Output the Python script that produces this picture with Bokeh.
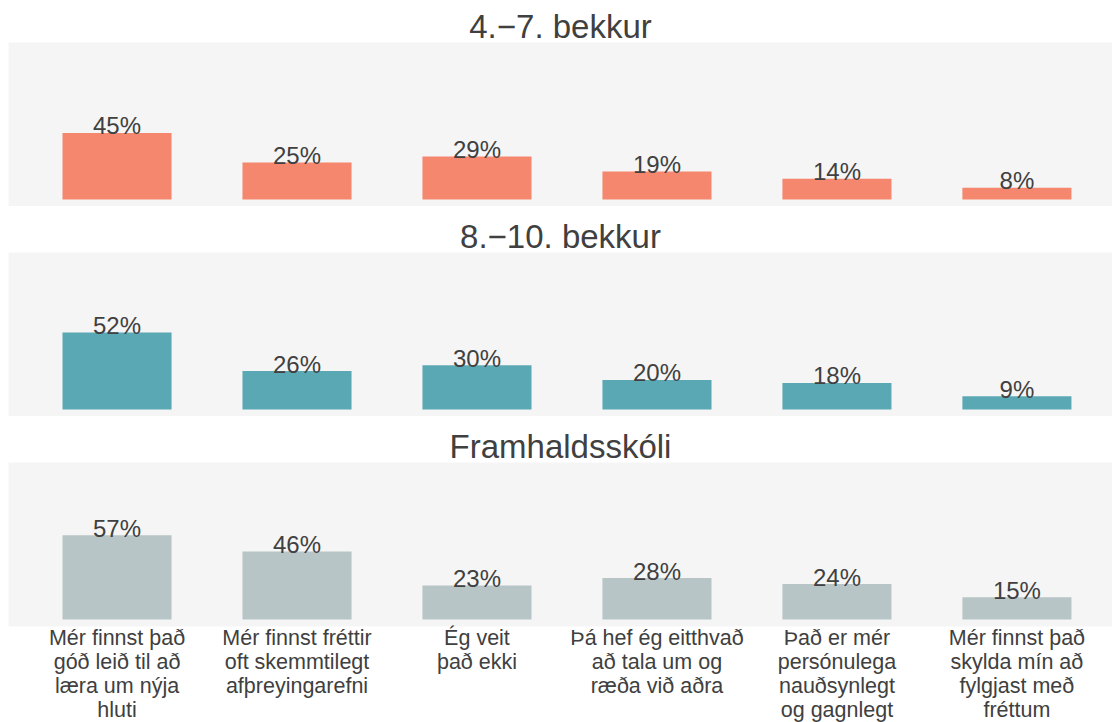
from bokeh.plotting import figure
from bokeh.layouts import column
from bokeh.models import Range1d, FixedTicker, ColumnDataSource
from bokeh.core.properties import value
from bokeh.embed import file_html
from bokeh.resources import INLINE

# ---- data ----
categories = [
    "Mér finnst það\ngóð leið til að\nlæra um nýja\nhluti",
    "Mér finnst fréttir\noft skemmtilegt\nafþreyingarefni",
    "Ég veit\nþað ekki",
    "Þá hef ég eitthvað\nað tala um og\nræða við aðra",
    "Það er mér\npersónulega\nnauðsynlegt\nog gagnlegt",
    "Mér finnst það\nskylda mín að\nfylgjast með\nfréttum",
]
grade_4_7 = [45, 25, 29, 19, 14, 8]
grade_8_10 = [52, 26, 30, 20, 18, 9]
framhaldsskoli = [57, 46, 23, 28, 24, 15]
panel_titles = ["4.\u22127. bekkur", "8.\u221210. bekkur", "Framhaldsskóli"]
panel_values = [grade_4_7, grade_8_10, framhaldsskoli]
panel_colors = ["#f4876e", "#5ba8b5", "#b8c5c6"]

FONT = "Liberation Sans"
TXT = "#404040"
xs = list(range(len(categories)))

figs = []
for i, (title, vals, col) in enumerate(zip(panel_titles, panel_values, panel_colors)):
    last = i == len(panel_titles) - 1
    p = figure(
        frame_width=1104, frame_height=164,
        x_range=Range1d(-0.603, 5.531), y_range=Range1d(-4.7, 106.1),
        output_backend="svg", toolbar_location=None,
        x_axis_location="below" if last else None, y_axis_location=None,
        min_border_left=8, min_border_right=0,
        min_border_top=42 if i == 0 else 46,
        min_border_bottom=0,
        background_fill_color="#f5f5f5", border_fill_color="white",
        outline_line_color=None, title=title,
    )
    p.title.align = "center"
    p.title.text_font = FONT
    p.title.text_font_size = "33px"
    p.title.text_font_style = "normal"
    p.title.text_color = TXT
    p.title.standoff = -5
    p.xgrid.visible = False
    p.ygrid.visible = False

    src = ColumnDataSource(dict(x=xs, v=vals, lbl=[f"{v}%" for v in vals]))
    p.vbar(x="x", top="v", bottom=0, width=0.606, source=src,
           fill_color=col, line_color=None)
    p.text(x="x", y="v", text="lbl", source=src, text_align="center",
           text_baseline="alphabetic", text_font=value(FONT),
           text_font_size=value("24px"), text_color=TXT, y_offset=-7)

    if last:
        ax = p.xaxis[0]
        ax.ticker = FixedTicker(ticks=xs)
        ax.major_label_overrides = {x: c for x, c in zip(xs, categories)}
        ax.major_tick_line_color = None
        ax.minor_tick_line_color = None
        ax.axis_line_color = None
        ax.major_label_text_font = FONT
        ax.major_label_text_font_size = "21.5px"
        ax.major_label_text_color = TXT
        ax.major_label_standoff = -7
        ax.major_label_text_line_height = 1.0
        ax.major_label_text_align = "center"
    figs.append(p)

layout = column(*figs, spacing=0)
open("out.html", "w").write(file_html(layout, INLINE))
